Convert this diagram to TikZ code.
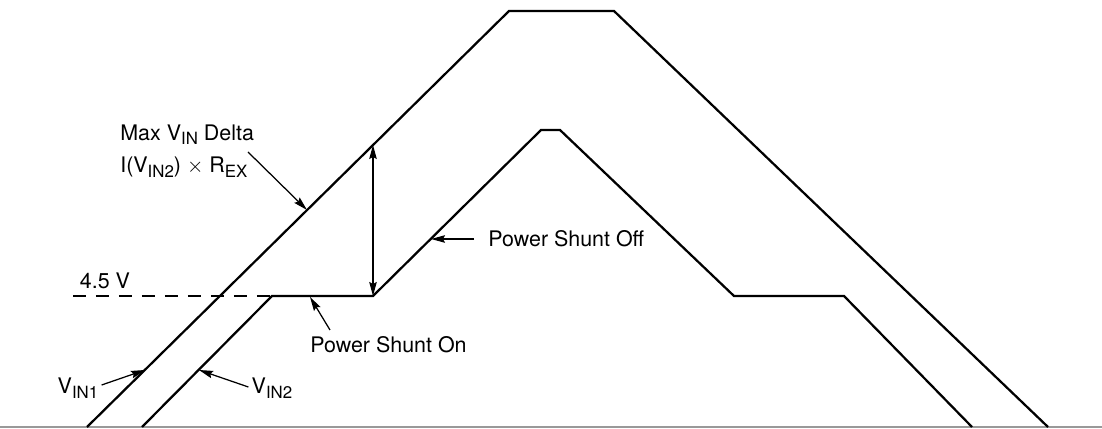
\documentclass[tikz,border=0pt]{standalone}
\usepackage{fontspec}
\setmainfont{TeX Gyre Heros}
\usepackage{tikz}
\usetikzlibrary{arrows.meta,positioning}
\newcommand{\lowsub}[1]{\raisebox{-0.4ex}{\fontsize{9.6}{10}\selectfont #1}}
\tikzset{sig/.style={line width=0.45mm,line join=miter},
  lbl/.style={inner sep=0pt,font=\fontsize{12.2}{18.5}\selectfont},
  arr/.style={-{Stealth[length=2.8mm,width=1.5mm,inset=0.4mm]},line width=0.25mm},
  dbl/.style={{Stealth[length=2.8mm,width=1.5mm,inset=0.4mm]}-{Stealth[length=2.8mm,width=1.5mm,inset=0.4mm]},line width=0.25mm}}

\begin{document}
\begin{tikzpicture}[x=0.02cm,y=0.02cm]
\useasboundingbox (0,0) rectangle (1102,429);
% baseline and 4.5 V level
\draw[gray!80,line width=0.25mm] (0,2)--(1102,2);
\draw[sig,dashed,dash pattern=on 2.6mm off 2mm] (73,133)--(272,133);
% supply traces
\draw[sig] (87,2)--(509,418)--(614,418)--(1048,2);
\draw[sig] (142,2)--(272,133)--(373,133)--(541,299)--(560,299)--(734,133)--(844,133)--(972,2);
% points on the traces
\coordinate (shuntend) at (373,133);
\coordinate (vinone) at (373,284);
\coordinate (pdelta) at (307,219);
\coordinate (pon) at (310,132);
\coordinate (poff) at (431,190);
\coordinate (pone) at (145,59);
\coordinate (ptwo) at (199,59);
\coordinate (tdelta) at (248,277);
\coordinate (ton) at (330,99);
% labels
\node[lbl] (lev) at (105,148) {4.5 V};
\node[lbl,align=left,anchor=west] (delta) at (120,278) {Max V\lowsub{IN} Delta\\I(V\lowsub{IN2}) $\times$ R\lowsub{EX}};
\node[lbl,anchor=west] (on) at (310,84) {Power Shunt On};
\node[lbl,anchor=west] (off) at (488,190) {Power Shunt Off};
\node[lbl] (vone) at (78,41) {V\lowsub{IN1}};
\node[lbl] (vtwo) at (272,41) {V\lowsub{IN2}};
% pointers
\draw[dbl] (shuntend)--(vinone);
\draw[arr] (tdelta)--(pdelta);
\draw[arr] (ton)--(pon);
\draw[arr] (off.west)++(-14,0)--(poff);
\draw[arr] (vone.east)++(3,3)--(pone);
\draw[arr] (vtwo.west)++(-3,1)--(ptwo);
\end{tikzpicture}
\end{document}
